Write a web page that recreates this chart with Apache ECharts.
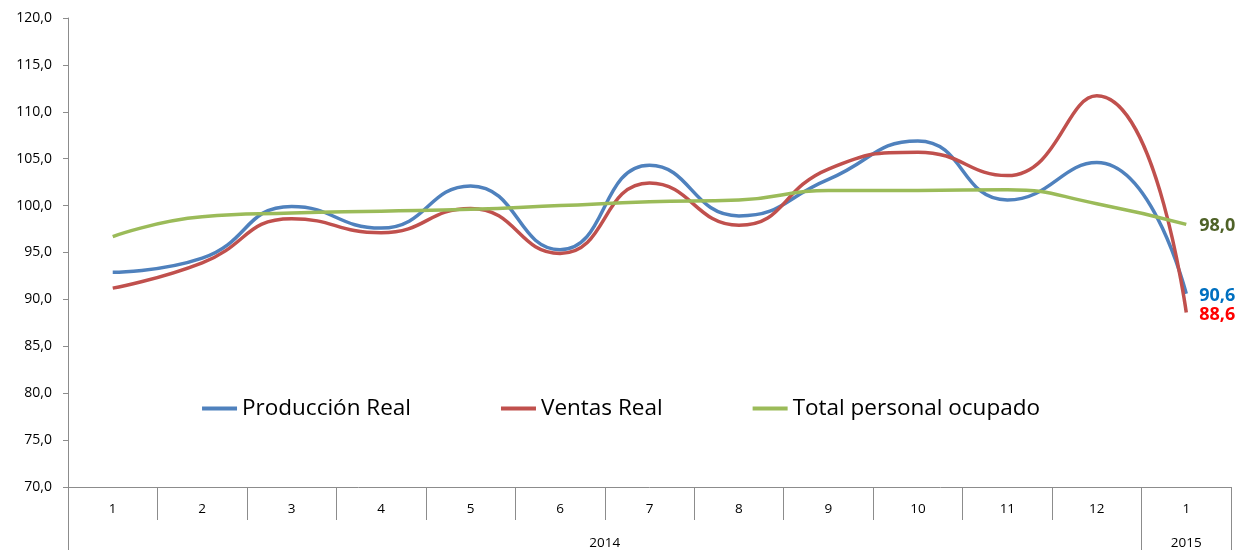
<!DOCTYPE html>
<html>
<head>
<meta charset="utf-8">
<script src="https://cdn.jsdelivr.net/npm/echarts@6/dist/echarts.min.js"></script>
<style>html,body{margin:0;padding:0;background:#fff}#c{width:1242px;height:550px}</style>
</head>
<body>
<div id="c"></div>
<script>
const categories = ['1','2','3','4','5','6','7','8','9','10','11','12','1'];
const yearLabels = ['2014','2015'];
const produccion = [92.9, 94.4, 99.9, 97.6, 102.1, 95.3, 104.3, 98.9, 102.8, 106.9, 100.6, 104.6, 90.6];
const ventas = [91.2, 93.9, 98.6, 97.1, 99.7, 94.9, 102.4, 97.9, 103.9, 105.7, 103.2, 111.7, 88.6];
const personal = [96.7, 98.8, 99.2, 99.4, 99.6, 100.0, 100.4, 100.6, 101.6, 101.6, 101.7, 100.2, 98.0];

const FONT = '"Open Sans", "Liberation Sans", sans-serif';
const fmt = v => v.toFixed(1).replace('.', ',');

function endLabel(color, offset) {
  return {show: true, distance: 13, offset: offset,
    formatter: p => fmt(Array.isArray(p.value) ? p.value[1] : p.value),
    color: color, fontWeight: 'bold', fontSize: 18, fontFamily: FONT};
}

const chart = echarts.init(document.getElementById('c'), null, {renderer: 'canvas'});
chart.setOption({
  animation: false,
  grid: {left: 68, right: 11, top: 18, bottom: 63, containLabel: false},
  legend: {
    top: 392, left: 'center',
    itemWidth: 35, itemHeight: 4, itemGap: 90, icon: 'rect',
    textStyle: {fontSize: 22.5, fontFamily: FONT, color: '#000'},
    data: ['Producción Real', 'Ventas Real', 'Total personal ocupado']
  },
  xAxis: [{
    type: 'category', data: categories, boundaryGap: true,
    axisLine: {lineStyle: {color: '#8c8c8c', width: 1}},
    axisTick: {show: true, interval: 0, length: 33, lineStyle: {color: '#8c8c8c'}},
    axisLabel: {interval: 0, margin: 15, fontSize: 13.5, fontFamily: FONT, color: '#000'}
  }, {
    type: 'value', min: 0, max: 13, position: 'bottom', offset: 33,
    axisLine: {show: false},
    splitLine: {show: false},
    axisTick: {show: true, length: 30, customValues: [0, 12, 13], lineStyle: {color: '#8c8c8c'}},
    axisLabel: {margin: 16, fontSize: 13.5, fontFamily: FONT, color: '#000',
      customValues: [6, 12.5],
      formatter: v => (v < 12 ? yearLabels[0] : yearLabels[1])}
  }],
  yAxis: {
    type: 'value', min: 70, max: 120, interval: 5,
    axisLine: {show: true, lineStyle: {color: '#8c8c8c'}},
    axisTick: {show: true, length: 5, lineStyle: {color: '#8c8c8c'}},
    splitLine: {show: false},
    axisLabel: {margin: 16, fontSize: 14, fontFamily: FONT, color: '#000', formatter: v => fmt(v)}
  },
  series: [{
    name: 'Producción Real', type: 'line', smooth: 0.5, symbol: 'none', xAxisIndex: 0,
    data: produccion, endLabel: endLabel('#0070C0', [0, 2]),
    lineStyle: {color: '#4F81BD', width: 3.5}, itemStyle: {color: '#4F81BD'}
  }, {
    name: 'Ventas Real', type: 'line', smooth: 0.5, symbol: 'none', xAxisIndex: 0,
    data: ventas, endLabel: endLabel('#FF0000', [0, 2]),
    lineStyle: {color: '#C0504D', width: 3.5}, itemStyle: {color: '#C0504D'}
  }, {
    name: 'Total personal ocupado', type: 'line', smooth: 0.5, symbol: 'none', xAxisIndex: 0,
    data: personal, endLabel: endLabel('#4F6228', [0, 2]),
    lineStyle: {color: '#9BBB59', width: 3.5}, itemStyle: {color: '#9BBB59'}
  }]
});
</script>
</body>
</html>
